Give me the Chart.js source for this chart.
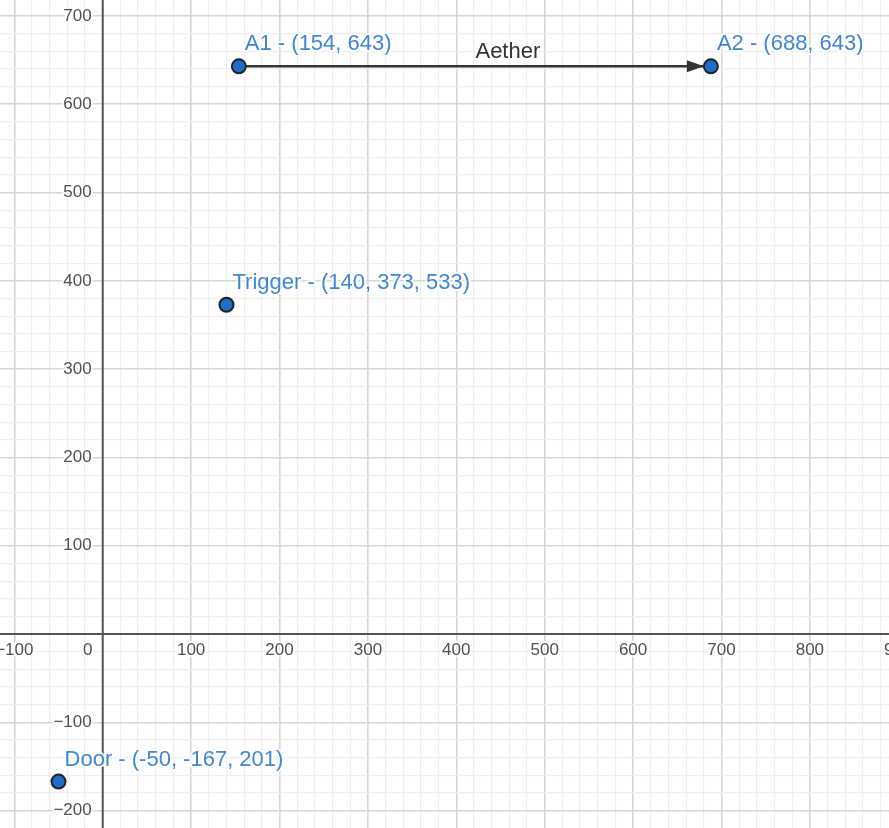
<!DOCTYPE html>
<html>
<head>
<meta charset="utf-8">
<script src="https://cdn.jsdelivr.net/npm/chart.js@4.4.1/dist/chart.umd.min.js"></script>
<style>
  body { margin: 0; background: #fff; }
  #wrap { width: 889px; height: 828px; }
</style>
</head>
<body>
<div id="wrap"><canvas id="graph" width="889" height="828"></canvas></div>
<script>
// point data (x, y) and their labels
const pointNames = ['A1 - (154, 643)', 'A2 - (688, 643)', 'Trigger - (140, 373, 533)', 'Door - (-50, -167, 201)'];
const pointX = [154, 688, 140, -50];
const pointY = [643, 643, 373, -167];

// the arrow segment A1 -> A2
const segX = [154, 688];
const segY = [643, 643];
const segLabel = 'Aether';

// axis tick labels
const xTickValues = [-100, 0, 100, 200, 300, 400, 500, 600, 700, 800, 900];
const xTickLabels = ['\u2212100', '0', '100', '200', '300', '400', '500', '600', '700', '800', '900'];
const yTickValues = [700, 600, 500, 400, 300, 200, 100, -100, -200];
const yTickLabels = ['700', '600', '500', '400', '300', '200', '100', '\u2212100', '\u2212200'];

const BLUE = '#1f6bc9';
const LABEL_BLUE = '#3f86d6';

function haloText(ctx, txt, x, y, color) {
  ctx.lineJoin = 'round';
  ctx.strokeStyle = 'rgba(255,255,255,0.9)';
  ctx.lineWidth = 4;
  ctx.strokeText(txt, x, y);
  ctx.fillStyle = color;
  ctx.fillText(txt, x, y);
}

// axes, tick labels and text labels
const graphPlugin = {
  id: 'graphPlugin',
  beforeDatasetsDraw(chart) {
    const ctx = chart.ctx;
    const xs = chart.scales.x, ys = chart.scales.y;
    const x0 = xs.getPixelForValue(0), y0 = ys.getPixelForValue(0);
    const area = chart.chartArea;
    ctx.save();
    ctx.strokeStyle = '#555';
    ctx.lineWidth = 2;
    ctx.beginPath();
    ctx.moveTo(area.left, y0); ctx.lineTo(area.right, y0);
    ctx.moveTo(x0, area.top); ctx.lineTo(x0, area.bottom);
    ctx.stroke();

    ctx.font = '17px "Liberation Sans", Arial, sans-serif';
    ctx.textBaseline = 'middle';
    ctx.textAlign = 'center';
    xTickValues.forEach((v, i) => {
      let px = xs.getPixelForValue(v);
      if (v === 0) px -= 15;
      haloText(ctx, xTickLabels[i], px, y0 + 16, '#505050');
    });
    ctx.textAlign = 'right';
    yTickValues.forEach((v, i) => {
      haloText(ctx, yTickLabels[i], x0 - 11, ys.getPixelForValue(v), '#505050');
    });
    ctx.restore();
  },
  afterDatasetsDraw(chart) {
    const ctx = chart.ctx;
    const xs = chart.scales.x, ys = chart.scales.y;
    ctx.save();
    ctx.font = '22px "Liberation Sans", Arial, sans-serif';
    ctx.textBaseline = 'middle';
    ctx.textAlign = 'center';
    const ey = ys.getPixelForValue(segY[1]);
    const mx = (xs.getPixelForValue(segX[0]) + xs.getPixelForValue(segX[1])) / 2;
    haloText(ctx, segLabel, mx + 33, ey - 14, '#333');

    ctx.textAlign = 'left';
    pointNames.forEach((name, i) => {
      const px = xs.getPixelForValue(pointX[i]);
      const py = ys.getPixelForValue(pointY[i]);
      haloText(ctx, name, px + 6, py - 22, LABEL_BLUE);
    });
    ctx.restore();
  }
};

// arrow head, drawn under the points
const arrowPlugin = {
  id: 'arrowPlugin',
  afterDatasetDraw(chart, args) {
    if (args.index !== 0) return;
    const ctx = chart.ctx;
    const xs = chart.scales.x, ys = chart.scales.y;
    const ex = xs.getPixelForValue(segX[1]) - 7;
    const ey = ys.getPixelForValue(segY[1]);
    ctx.save();
    ctx.fillStyle = '#333';
    ctx.beginPath();
    ctx.moveTo(ex, ey);
    ctx.lineTo(ex - 17, ey - 6);
    ctx.lineTo(ex - 17, ey + 6);
    ctx.closePath();
    ctx.fill();
    ctx.restore();
  }
};

const isMajor = c => c.tick && c.tick.value % 100 === 0;
const gridColor = c => isMajor(c) ? '#d6d6d6' : '#eeeeee';
const gridWidth = c => isMajor(c) ? 1.6 : 1.2;

new Chart(document.getElementById('graph'), {
  type: 'scatter',
  data: {
    datasets: [
      {
        label: 'Aether',
        data: segX.map((x, i) => ({ x: x, y: segY[i] })),
        showLine: true,
        borderColor: '#333',
        borderWidth: 2.5,
        pointRadius: 0,
        order: 2
      },
      {
        label: 'points',
        data: pointX.map((x, i) => ({ x: x, y: pointY[i] })),
        backgroundColor: BLUE,
        borderColor: '#222',
        borderWidth: 2,
        pointRadius: 7,
        order: 1
      }
    ]
  },
  options: {
    responsive: false,
    animation: false,
    layout: { padding: 0, autoPadding: false },
    plugins: { legend: { display: false }, tooltip: { enabled: false }, title: { display: false } },
    scales: {
      x: {
        type: 'linear',
        min: -116.2,
        max: 889.5,
        border: { display: false },
        ticks: { display: false, stepSize: 20, includeBounds: false },
        grid: { color: gridColor, lineWidth: gridWidth, drawTicks: false }
      },
      y: {
        type: 'linear',
        min: -219.6,
        max: 718.1,
        border: { display: false },
        ticks: { display: false, stepSize: 20, includeBounds: false },
        grid: { color: gridColor, lineWidth: gridWidth, drawTicks: false }
      }
    }
  },
  plugins: [arrowPlugin, graphPlugin]
});
</script>
</body>
</html>
